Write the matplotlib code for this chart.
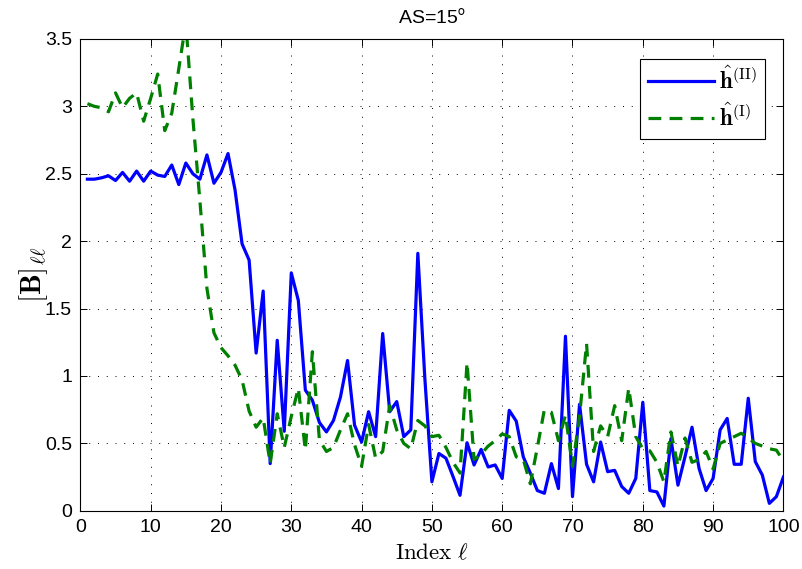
import numpy as np
import matplotlib
matplotlib.use('Agg')
import matplotlib.pyplot as plt

plt.rcParams.update({
    'font.family': ['Liberation Sans', 'DejaVu Sans'],
    'mathtext.fontset': 'cm',
    'xtick.direction': 'in',
    'ytick.direction': 'in',
    'xtick.top': True,
    'ytick.right': True,
})

# index l = 1..100
index = np.arange(1, 101)

# [B]_ll for h^(II) (blue, solid)
b_h2 = [2.46, 2.46, 2.47, 2.485, 2.45, 2.51, 2.445, 2.52, 2.445, 2.52,
        2.49, 2.48, 2.565, 2.42, 2.58, 2.50, 2.46, 2.64, 2.43, 2.51,
        2.65, 2.38, 1.98, 1.86, 1.17, 1.63, 0.35, 1.265, 0.59, 1.765,
        1.56, 0.895, 0.82, 0.655, 0.585, 0.67, 0.845, 1.115, 0.635, 0.51,
        0.735, 0.55, 1.315, 0.735, 0.81, 0.55, 0.60, 1.91, 0.98, 0.215,
        0.425, 0.39, 0.255, 0.115, 0.505, 0.34, 0.455, 0.325, 0.34, 0.24,
        0.745, 0.665, 0.40, 0.28, 0.15, 0.13, 0.35, 0.165, 1.295, 0.105,
        0.79, 0.345, 0.215, 0.51, 0.29, 0.30, 0.18, 0.13, 0.24, 0.805,
        0.15, 0.14, 0.035, 0.535, 0.19, 0.40, 0.62, 0.315, 0.15, 0.24,
        0.60, 0.685, 0.345, 0.345, 0.835, 0.365, 0.265, 0.055, 0.105, 0.25]

# [B]_ll for h^(I) (green, dashed)
b_h1 = [3.02, 3.00, 2.99, 2.96, 3.10, 2.99, 3.06, 3.10, 2.89, 3.06,
        3.24, 2.82, 2.95, 3.28, 3.62, 2.91, 2.30, 1.65, 1.32, 1.21,
        1.15, 1.08, 0.97, 0.74, 0.62, 0.69, 0.35, 0.72, 0.47, 0.70,
        0.91, 0.45, 1.18, 0.525, 0.44, 0.47, 0.60, 0.72, 0.49, 0.33,
        0.64, 0.39, 0.44, 0.78, 0.60, 0.50, 0.46, 0.67, 0.63, 0.55,
        0.56, 0.47, 0.36, 0.28, 1.10, 0.38, 0.42, 0.48, 0.52, 0.57,
        0.55, 0.40, 0.38, 0.20, 0.47, 0.75, 0.73, 0.52, 0.71, 0.33,
        0.70, 1.24, 0.44, 0.63, 0.55, 0.78, 0.52, 0.91, 0.55, 0.46,
        0.445, 0.36, 0.215, 0.585, 0.33, 0.54, 0.36, 0.38, 0.44, 0.31,
        0.50, 0.525, 0.55, 0.575, 0.54, 0.50, 0.48, 0.46, 0.45, 0.37]

x_ticks = [0, 10, 20, 30, 40, 50, 60, 70, 80, 90, 100]
y_ticks = [0, 0.5, 1, 1.5, 2, 2.5, 3, 3.5]
y_tick_labels = ['0', '0.5', '1', '1.5', '2', '2.5', '3', '3.5']

fig = plt.figure(figsize=(8.03, 5.69), dpi=100)
ax = fig.add_axes([0.1001, 0.1023, 0.8755, 0.8292])

ax.plot(index, b_h2, color='#0000ff', lw=2.3, label=r'$\hat{\mathbf{h}}^{(\mathrm{II})}$')
ax.plot(index, b_h1, color='#008000', lw=2.3, linestyle=(0, (4, 2.6)),
        label=r'$\hat{\mathbf{h}}^{(\mathrm{I})}$')

ax.set_xlim(0, 100)
ax.set_ylim(0, 3.5)
ax.set_xticks(x_ticks)
ax.set_yticks(y_ticks)
ax.set_yticklabels(y_tick_labels)
ax.tick_params(labelsize=14, length=5, width=0.7, pad=6)
ax.grid(True, color='black', linestyle=(0, (1, 8)), lw=0.7)
for s in ax.spines.values():
    s.set_linewidth(0.8)

ax.set_xlabel(r'$\mathrm{Index}\ \ell$', fontsize=16.5, labelpad=4)
ax.set_ylabel(r'$[\mathbf{B}]_{\ell\ell}$', fontsize=21, labelpad=-4)
ax.set_title(r'AS=15$^{\mathrm{o}}$', fontsize=14, math_fontfamily='stixsans', pad=11)

leg = ax.legend(loc='upper right', bbox_to_anchor=(0.974, 0.958), borderaxespad=0,
                fontsize=16.5, handlelength=2.9, handletextpad=0.2, fancybox=False,
                framealpha=1, borderpad=0.35, labelspacing=0.4, edgecolor='black')
leg.get_frame().set_linewidth(0.8)

fig.savefig('out.png', dpi=100)
